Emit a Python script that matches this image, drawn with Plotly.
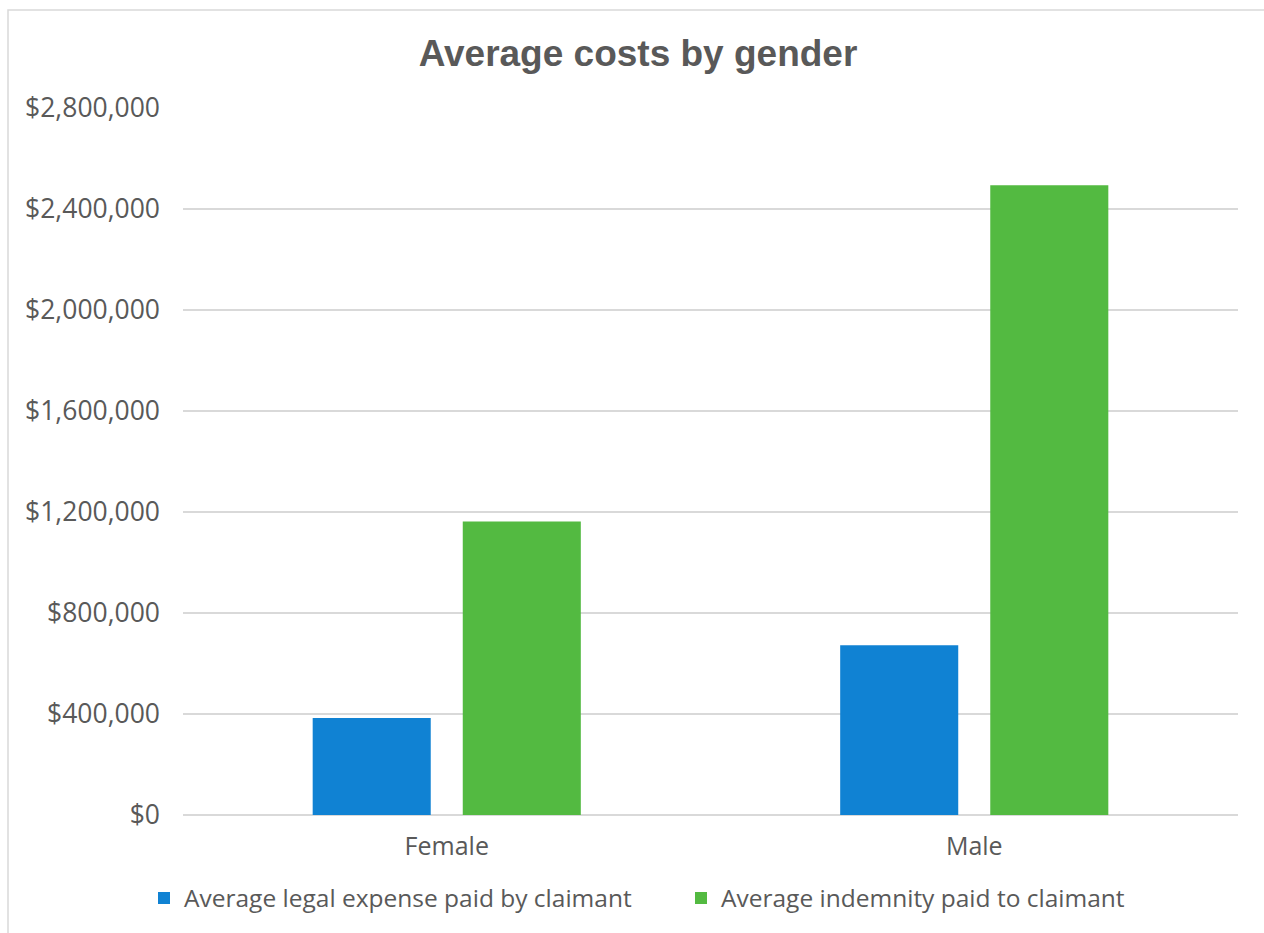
import plotly.graph_objects as go

categories = ["Female", "Male"]
legal_expense = [384000, 672000]
indemnity = [1162000, 2494000]
series_names = ["Average legal expense paid by claimant", "Average indemnity paid to claimant"]
tick_values = [0, 400000, 800000, 1200000, 1600000, 2000000, 2400000, 2800000]
tick_labels = ["$0", "$400,000", "$800,000", "$1,200,000", "$1,600,000", "$2,000,000", "$2,400,000", "$2,800,000"]

W, H = 1264, 933
L, R, T, B = 183, 26, 108, 118
FONT = "Open Sans, Noto Sans, Arial"

fig = go.Figure()
fig.add_trace(go.Bar(x=categories, y=legal_expense, name=series_names[0], marker_color="#1082D3",
                     marker_line_width=0))
fig.add_trace(go.Bar(x=categories, y=indemnity, name=series_names[1], marker_color="#53BA41",
                     marker_line_width=0))

pw = W - L - R
ph = H - T - B
fig.add_shape(type="rect", xref="paper", yref="paper",
              x0=(8 - L) / pw, x1=(W + 20 - L) / pw,
              y0=(H - B - (H + 20)) / ph, y1=(H - B - 10) / ph,
              line=dict(color="#D9D9D9", width=1.5), fillcolor="rgba(0,0,0,0)", layer="below")

fig.update_layout(
    width=W, height=H,
    margin=dict(l=L, r=R, t=T, b=B),
    paper_bgcolor="white", plot_bgcolor="white",
    title=dict(text="<b>Average costs by gender</b>", x=638 / W, xanchor="center",
               y=1 - 53 / H, yanchor="middle",
               font=dict(family="Liberation Sans, Arial", size=37, color="#595959")),
    barmode="group", bargap=0.431, bargroupgap=0.2133,
    font=dict(family=FONT, color="#595959"),
    showlegend=True,
    legend=dict(orientation="h", x=(144 - L) / pw, xanchor="left", y=-(898 - (H - B)) / ph, yanchor="middle",
                font=dict(family=FONT, size=24.5, color="#595959"), itemwidth=30, traceorder="normal",
                entrywidth=492, entrywidthmode="pixels"),
    xaxis=dict(showgrid=False, showline=False, ticks="", tickfont=dict(family=FONT, size=25, color="#595959"),
               ticklabelstandoff=14),
    yaxis=dict(range=[0, 2800000], tickvals=tick_values, ticktext=tick_labels,
               showgrid=True, gridcolor="#D9D9D9", gridwidth=1.5,
               zeroline=True, zerolinecolor="#D9D9D9", zerolinewidth=1.5,
               showline=False, ticks="", tickfont=dict(family=FONT, size=26.5, color="#595959"),
               ticklabelstandoff=22),
)

fig.write_html("out.html")
